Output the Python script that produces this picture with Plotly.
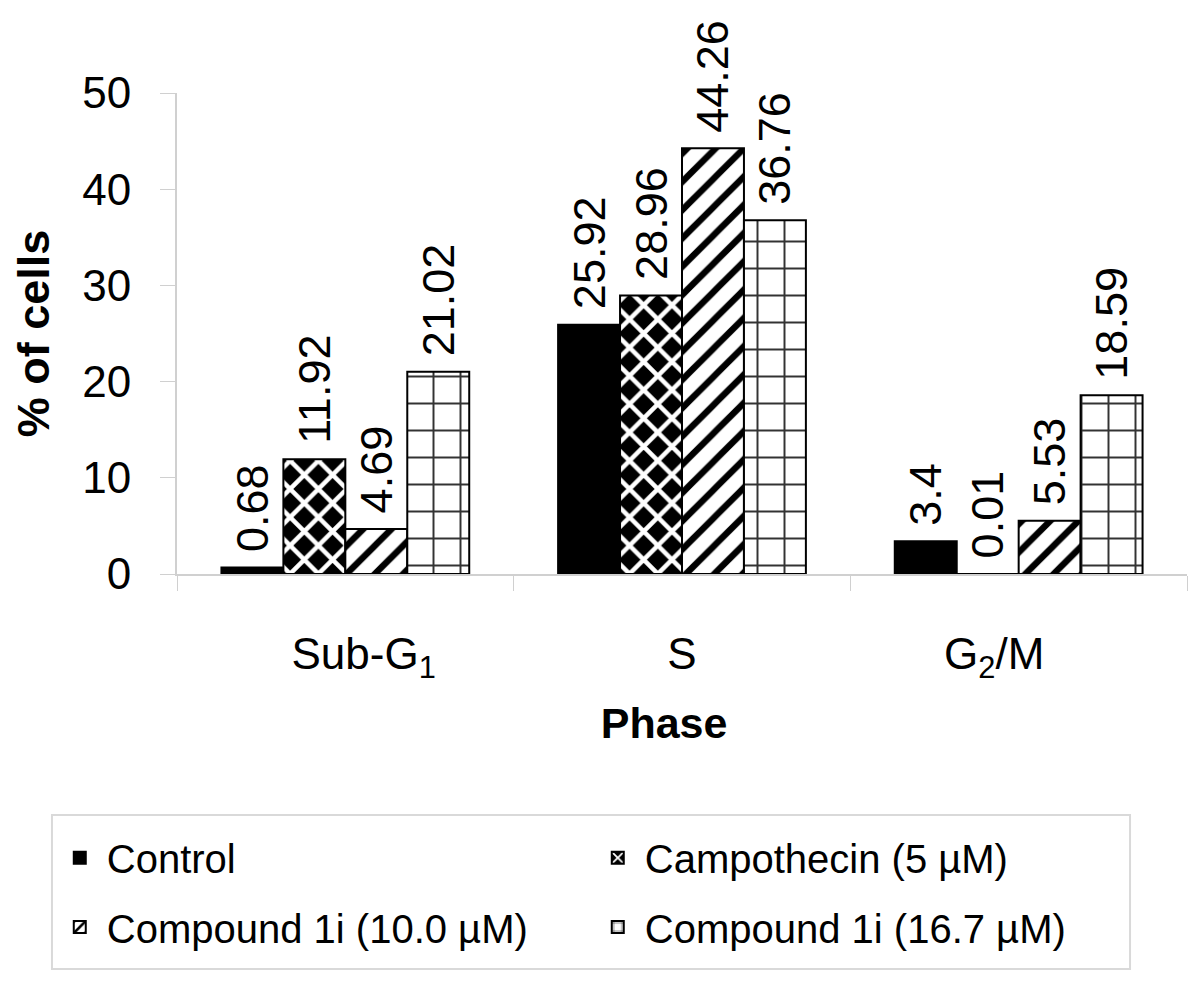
import plotly.graph_objects as go

phases = ["Sub-G1", "S", "G2/M"]
phase_labels = ["\u00a0\u00a0\u00a0Sub-G<sub>1</sub>", "S", "G<sub>2</sub>/M\u00a0\u00a0\u00a0\u00a0"]
series_names = ["Control", "Campothecin (5 µM)", "Compound 1i (10.0 µM)", "Compound 1i (16.7 µM)"]
control = [0.68, 25.92, 3.4]
campothecin = [11.92, 28.96, 0.01]
compound_10 = [4.69, 44.26, 5.53]
compound_16 = [21.02, 36.76, 18.59]
y_ticks = [0, 10, 20, 30, 40, 50]

FONT = "Liberation Sans, Arial, sans-serif"

patterns = [
    dict(shape=""),
    dict(shape="x", fgcolor="white", bgcolor="black", size=20, solidity=0.4, fillmode="replace"),
    dict(shape="/", fgcolor="black", bgcolor="white", size=20, solidity=0.32, fillmode="replace"),
    dict(shape="+", fgcolor="#333333", bgcolor="white", size=27, solidity=0.14, fillmode="replace"),
]
colors = ["black", "black", "white", "white"]
legend_ids = ["legend", "legend", "legend2", "legend2"]

fig = go.Figure()
for name, vals, pat, col, lg in zip(series_names, [control, campothecin, compound_10, compound_16],
                                    patterns, colors, legend_ids):
    fig.add_trace(go.Bar(
        name=name,
        x=phases,
        y=vals,
        legend=lg,
        marker=dict(color=col, line=dict(color="black", width=2), pattern=pat),
        text=["\u00a0" + f"{v:g}" for v in vals],
        textposition="outside",
        textangle=-90,
        textfont=dict(family=FONT, size=45, color="black"),
        constraintext="none",
        cliponaxis=False,
    ))

legend_common = dict(
    orientation="h",
    font=dict(family=FONT, size=40, color="black"),
    bgcolor="rgba(0,0,0,0)",
    borderwidth=0,
    entrywidth=479,
    entrywidthmode="pixels",
    itemwidth=44,
    traceorder="normal",
    xanchor="left",
    yanchor="middle",
)

fig.update_layout(
    width=1192,
    height=973,
    margin=dict(l=169, r=13, t=85, b=407, autoexpand=False),
    plot_bgcolor="white",
    paper_bgcolor="white",
    barmode="group",
    bargap=0.264,
    bargroupgap=0,
    font=dict(family=FONT, color="black"),
    showlegend=True,
    legend=dict(legend_common, x=-0.123, y=-0.590),
    legend2=dict(legend_common, x=-0.123, y=-0.734),
    shapes=[dict(type="rect", xref="paper", yref="paper",
                 x0=-0.1238, x1=0.9436, y0=-0.8212, y1=-0.501,
                 line=dict(color="#d9d9d9", width=2), fillcolor="rgba(0,0,0,0)", layer="below")],
    xaxis=dict(
        type="category",
        tickmode="array",
        tickvals=phases,
        ticktext=phase_labels,
        tickson="boundaries",
        ticks="outside",
        ticklen=15,
        tickcolor="#d0d0d0",
        showline=True,
        linecolor="#d0d0d0",
        linewidth=2,
        showgrid=False,
        automargin=False,
        tickfont=dict(family=FONT, size=44, color="black"),
        ticklabelstandoff=40,
        title=dict(text="<b>Phase\u00a0\u00a0\u00a0</b>", font=dict(family=FONT, size=43, color="black"), standoff=24),
    ),
    yaxis=dict(
        range=[0, 50],
        tickmode="array",
        tickvals=y_ticks,
        ticks="outside",
        ticklen=15,
        tickcolor="#d0d0d0",
        showline=True,
        linecolor="#d0d0d0",
        linewidth=2,
        showgrid=False,
        zeroline=False,
        automargin=False,
        tickfont=dict(family=FONT, size=44, color="black"),
        ticklabelstandoff=20,
        title=dict(text="<b>% of cells</b>", font=dict(family=FONT, size=45, color="black"), standoff=25),
    ),
)

fig.write_html("out.html")
